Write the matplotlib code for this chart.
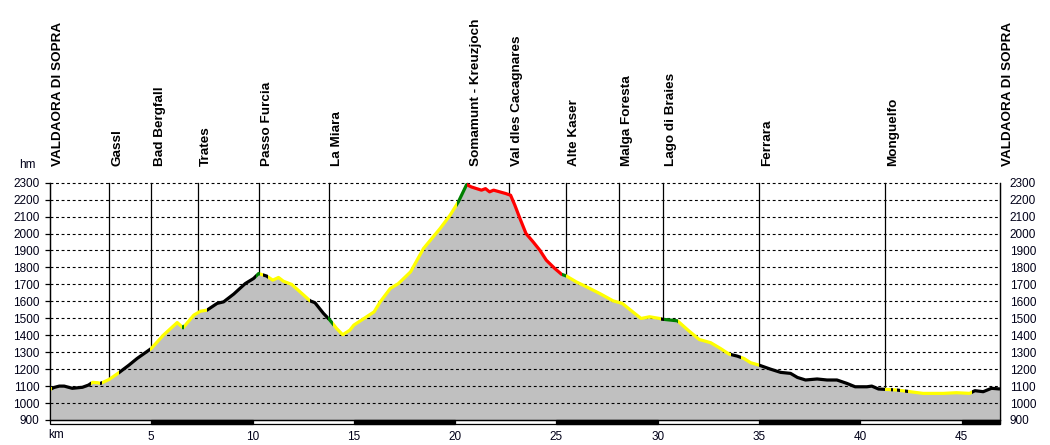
import numpy as np
import matplotlib
matplotlib.use("Agg")
import matplotlib.pyplot as plt
import matplotlib.transforms as mtransforms
from matplotlib.patches import Rectangle

# ---------------- data ----------------
km = [0, 0.2, 0.46, 0.7, 1.1, 1.6, 1.9, 2.1, 2.35, 2.5, 2.93, 3.4, 3.9, 4.3, 4.8,
      5.0, 5.6, 6.28, 6.57, 7.1, 7.43, 7.75, 8.25, 8.57, 9.07, 9.64, 10.05, 10.3,
      10.7, 11.0, 11.28, 11.52, 11.93, 12.43, 12.84, 13.08, 13.5, 13.82, 14.15,
      14.45, 14.8, 15.0, 15.5, 16.0, 16.3, 16.8, 17.2, 17.8, 18.44, 19.26, 19.75,
      20.16, 20.57, 20.8, 21.3, 21.5, 21.7, 21.9, 22.2, 22.5, 22.74, 22.95, 23.2,
      23.5, 23.85, 24.18, 24.5, 24.92, 25.25, 25.5, 25.98, 26.48, 27.13, 27.8,
      28.25, 28.77, 29.18, 29.6, 30.1, 30.2, 30.98, 31.5, 32.05, 32.62, 33.1,
      33.52, 33.93, 34.26, 34.59, 35.0, 35.57, 36.07, 36.56, 36.9, 37.3, 37.87,
      38.36, 38.85, 39.34, 39.75, 40.33, 40.57, 40.9, 41.2, 41.8, 42.46, 43.1,
      44.1, 44.75, 45.4, 45.66, 46.07, 46.48, 46.9]
elev = [1080, 1092, 1100, 1100, 1087, 1093, 1106, 1122, 1120, 1116, 1140, 1179,
        1224, 1263, 1305, 1322, 1401, 1475, 1444, 1519, 1542, 1548, 1588, 1597,
        1643, 1705, 1735, 1764, 1749, 1725, 1741, 1719, 1700, 1647, 1603, 1592,
        1529, 1489, 1440, 1403, 1430, 1460, 1499, 1538, 1597, 1676, 1705, 1774,
        1912, 2030, 2108, 2187, 2289, 2275, 2256, 2265, 2246, 2256, 2246, 2236,
        2226, 2167, 2089, 2000, 1951, 1902, 1843, 1794, 1760, 1749, 1715, 1686,
        1647, 1603, 1588, 1538, 1499, 1509, 1499, 1495, 1485, 1430, 1375, 1356,
        1322, 1289, 1277, 1263, 1238, 1224, 1200, 1181, 1175, 1151, 1136, 1142,
        1136, 1136, 1116, 1096, 1096, 1100, 1083, 1081, 1077, 1067, 1057, 1057,
        1061, 1057, 1073, 1067, 1087, 1083]

place_names = ["VALDAORA DI SOPRA", "Gassl", "Bad Bergfall", "Trates",
               "Passo Furcia", "La Miara", "Somamunt - Kreuzjoch",
               "Val dles Cacagnares", "Alte Kaser", "Malga Foresta",
               "Lago di Braies", "Ferrara", "Monguelfo", "VALDAORA DI SOPRA"]
place_km = [0, 2.9, 5.0, 7.3, 10.3, 13.76, 20.6, 22.65, 25.47, 28.07, 30.26,
            34.98, 41.2, 46.9]

color_breaks = [0, 0.1, 2.0, 2.45, 2.55, 3.4, 4.95, 6.5, 6.6, 7.75, 10.15,
                10.35, 10.5, 10.75, 12.85, 13.7, 13.95, 20.1, 20.6, 25.3, 25.45,
                30.15, 30.3, 31.0, 33.6, 34.1, 35.0, 41.2, 41.5, 41.62, 41.83,
                41.95, 42.22, 42.36, 45.5, 46.9]
segment_colors = ["Y", "K", "Y", "K", "Y", "K", "Y", "G", "Y", "K", "G", "Y",
                  "K", "Y", "K", "G", "Y", "G", "R", "G", "Y", "K", "G", "Y",
                  "K", "Y", "K", "Y", "K", "Y", "K", "Y", "K", "Y", "K"]

y_ticks = list(range(900, 2301, 100))
x_ticks = [5, 10, 15, 20, 25, 30, 35, 40, 45]
km_total = 46.9

# ---------------- style ----------------
W, H = 1050, 445
fig = plt.figure(figsize=(W / 100, H / 100), dpi=100)
plt.rcParams['font.family'] = ['Liberation Sans', 'DejaVu Sans']

ax_l, ax_r, ax_top, ax_bot = 50, 1000, 182.7, 420
ax = fig.add_axes([ax_l / W, (H - ax_bot) / H, (ax_r - ax_l) / W,
                   (ax_bot - ax_top) / H])
ax.set_xlim(0, km_total)
ax.set_ylim(900, 2300)

cmap = {"Y": "#ffff00", "K": "#000000", "G": "#008000", "R": "#ff0000"}
txt_col = "#000018"

# vertical place lines (behind fill)
for k in place_km:
    ax.plot([k, k], [900, 2300], color="black", lw=0.9, zorder=1,
            clip_on=False)

# fill
ax.fill_between(km, 900, elev, color="#c0c0c0", lw=0, zorder=2)

# dashed grid above fill
for yv in y_ticks[1:]:
    ax.plot([0, km_total], [yv, yv], color="black", lw=0.8,
            linestyle=(0, (2.6, 2.4)), zorder=3, clip_on=False)

# coloured profile line
for i, c in enumerate(segment_colors):
    a, b = color_breaks[i], color_breaks[i + 1]
    ln, = ax.plot(km, elev, color=cmap[c], lw=2.3, zorder=4,
                  solid_joinstyle="round", solid_capstyle="butt")
    clip = Rectangle((a, 800), b - a, 1700, transform=ax.transData)
    ln.set_clip_path(clip)

# spines
ax.spines["top"].set_visible(False)
for s in ["left", "right", "bottom"]:
    ax.spines[s].set_linewidth(0.9)
    ax.spines[s].set_zorder(5)

# y ticks
ax.set_yticks(y_ticks)
ax.tick_params(axis="y", which="both", left=True, right=False, length=3.6,
               width=0.9, direction="out", labelsize=8.5, pad=4,
               labelcolor=txt_col, labelleft=True, labelright=False)
ax2 = ax.secondary_yaxis("right")
ax2.set_yticks(y_ticks)
ax2.tick_params(length=0, labelsize=8.5, pad=7, labelcolor=txt_col)
ax2.spines["right"].set_visible(False)

# x ticks
ax.set_xticks(x_ticks)
ax.tick_params(axis="x", length=0, labelsize=8.5, pad=8, labelcolor=txt_col)

# km bar below axis
blend = mtransforms.blended_transform_factory(ax.transData, ax.transAxes)
bar_h = 4.0 / (ax_bot - ax_top)
ax.add_patch(Rectangle((0, -bar_h), km_total, bar_h, transform=blend,
                       facecolor="white", edgecolor="black", lw=0.9,
                       clip_on=False, zorder=5))
starts = list(range(5, int(km_total) + 1, 10))
for s0 in starts:
    ax.add_patch(Rectangle((s0, -bar_h), min(5, km_total - s0), bar_h,
                           transform=blend, facecolor="black",
                           edgecolor="black", lw=0.9, clip_on=False, zorder=5))

# place labels
for name, k in zip(place_names, place_km):
    ax.annotate(name, xy=(k, 1.0), xycoords=blend,
                xytext=(11.3 * 0.72, 17.2 * 0.72), textcoords="offset points",
                rotation=90, rotation_mode="anchor", ha="left", va="baseline",
                fontsize=9.7, fontweight="bold", color="black",
                annotation_clip=False)

# unit labels
fig.text(27 / W, (H - 168) / H, "hm", ha="center", va="baseline",
         fontsize=8.5, color=txt_col)
fig.text(48 / W, (H - 435) / H, "km", ha="left", va="center",
         fontsize=8.5, color=txt_col)

fig.savefig("out.png", dpi=100)
